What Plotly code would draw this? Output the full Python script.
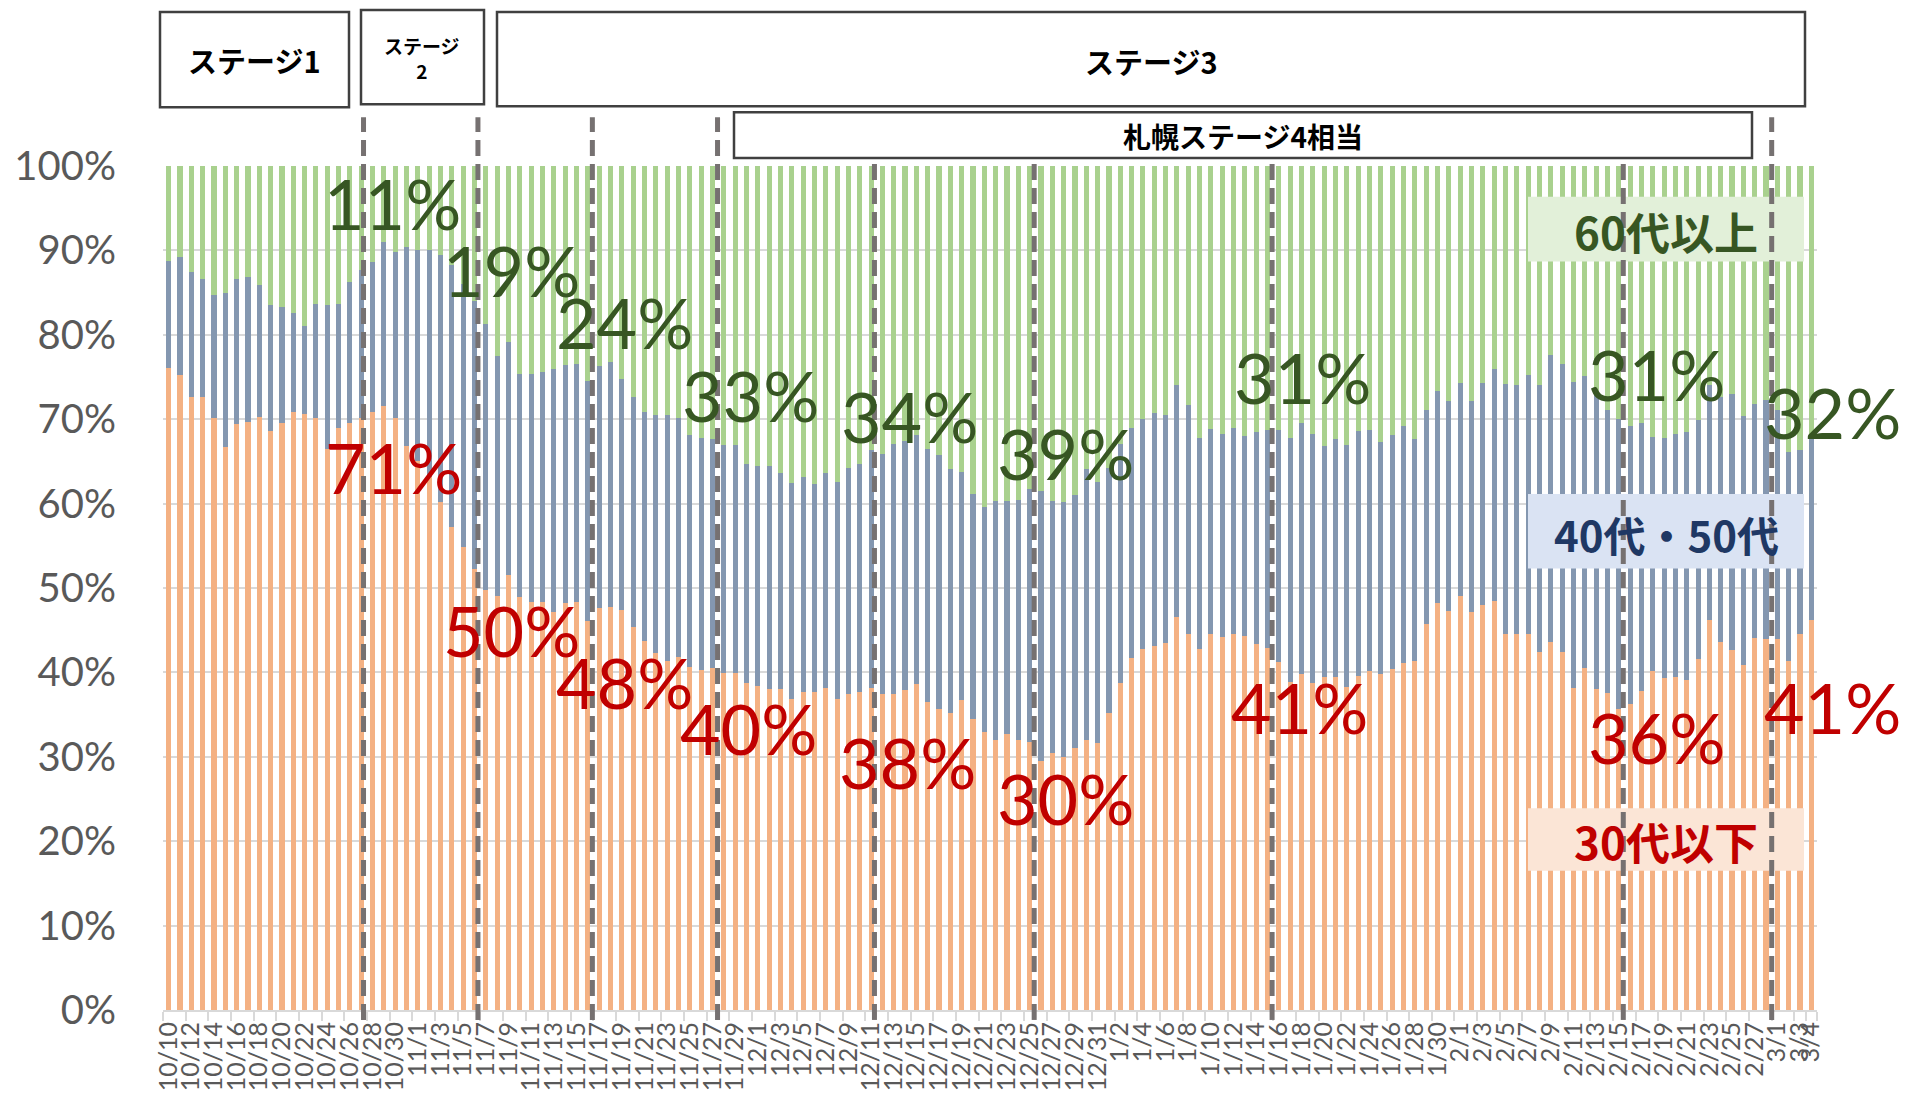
import pandas as pd
import plotly.graph_objects as go

# ---------------- data ----------------
dates = pd.date_range("2020-10-10", "2021-03-04")
categories = [f"{d.month}/{d.day}" for d in dates]

young = [76.1, 75.2, 72.6, 72.6, 70.1, 66.7, 69.4, 69.7, 70.3, 68.6,
         69.6, 70.9, 70.6, 70.1, 66.5, 69.0, 69.5, 70.1, 70.9, 71.6,
         70.2, 66.8, 65.0, 63.1, 60.2, 57.2, 54.9, 52.2, 49.8, 49.0,
         51.6, 48.9, 48.4, 48.3, 47.1, 48.2, 48.3, 46.1, 47.6, 47.8,
         47.4, 45.4, 43.7, 42.3, 41.4, 41.8, 40.6, 40.3, 40.5, 39.9,
         39.9, 38.7, 38.4, 38.0, 38.0, 36.9, 37.7, 37.7, 38.2, 36.8,
         37.5, 37.7, 38.2, 37.5, 37.4, 37.9, 38.6, 36.5, 35.7, 35.2,
         36.7, 34.5, 32.9, 32.0, 32.7, 32.0, 31.8, 29.5, 30.4, 30.0,
         31.1, 32.0, 31.6, 35.2, 38.7, 41.7, 42.8, 43.1, 43.5, 46.6,
         44.5, 42.8, 44.5, 44.2, 44.5, 44.3, 43.4, 42.9, 41.2, 38.9,
         39.8, 38.7, 39.5, 39.4, 38.3, 39.6, 40.2, 39.8, 40.4, 41.1,
         41.3, 45.7, 48.2, 47.3, 49.0, 47.1, 48.0, 48.5, 44.5, 44.6,
         44.5, 42.4, 43.6, 42.4, 38.2, 40.5, 38.0, 37.6, 35.7, 36.2,
         37.8, 40.2, 39.3, 39.5, 39.1, 41.6, 46.2, 43.6, 42.6, 40.9,
         44.1, 43.9, 44.0, 41.3, 44.6, 46.2]

middle = [12.6, 14.0, 14.8, 14.0, 14.6, 18.3, 17.2, 17.1, 15.6, 14.9,
          13.7, 11.7, 10.5, 13.5, 17.0, 14.6, 16.8, 17.6, 17.7, 19.4,
          19.6, 23.6, 25.0, 27.0, 29.3, 31.1, 31.1, 31.8, 31.5, 28.5,
          27.5, 26.5, 27.0, 27.3, 28.9, 28.2, 28.3, 28.4, 28.7, 29.0,
          27.4, 27.2, 27.2, 28.2, 29.1, 28.3, 27.5, 27.5, 27.1, 27.1,
          27.1, 26.0, 26.1, 26.5, 25.6, 25.5, 25.5, 24.6, 25.4, 25.8,
          26.7, 27.0, 28.2, 28.4, 29.7, 29.5, 29.5, 30.0, 30.0, 28.9,
          27.0, 26.6, 26.7, 28.3, 27.6, 28.4, 29.9, 32.0, 29.9, 30.2,
          29.9, 32.1, 31.0, 29.0, 28.4, 27.2, 27.2, 27.6, 27.0, 27.4,
          27.2, 25.0, 24.3, 24.1, 24.4, 23.7, 25.1, 25.8, 27.5, 28.9,
          29.8, 29.5, 27.3, 28.2, 28.6, 29.0, 28.5, 27.5, 27.7, 28.1,
          26.4, 25.4, 25.2, 24.9, 25.3, 25.0, 26.3, 27.5, 29.7, 29.5,
          30.7, 31.6, 34.0, 34.2, 36.2, 34.6, 35.0, 33.5, 34.3, 33.0,
          31.8, 27.7, 28.5, 28.8, 29.4, 28.3, 27.9, 29.0, 30.4, 29.5,
          27.7, 28.4, 27.1, 24.8, 21.7, 21.4]

senior = [11.3, 10.8, 12.6, 13.4, 15.3, 15.0, 13.4, 13.2, 14.1, 16.5,
          16.7, 17.4, 18.9, 16.4, 16.5, 16.4, 13.7, 12.3, 11.4, 9.0,
          10.2, 9.6, 10.0, 9.9, 10.5, 11.7, 14.0, 16.0, 18.7, 22.5,
          20.9, 24.6, 24.6, 24.4, 24.0, 23.6, 23.4, 25.5, 23.7, 23.2,
          25.2, 27.4, 29.1, 29.5, 29.5, 29.9, 31.9, 32.2, 32.4, 33.0,
          33.0, 35.3, 35.5, 35.5, 36.4, 37.6, 36.8, 37.7, 36.4, 37.4,
          35.8, 35.3, 33.6, 34.1, 32.9, 32.6, 31.9, 33.5, 34.3, 35.9,
          36.3, 38.9, 40.4, 39.7, 39.7, 39.6, 38.3, 38.5, 39.7, 39.8,
          39.0, 35.9, 37.4, 35.8, 32.9, 31.1, 30.0, 29.3, 29.5, 26.0,
          28.3, 32.2, 31.2, 31.7, 31.1, 32.0, 31.5, 31.3, 31.3, 32.2,
          30.4, 31.8, 33.2, 32.4, 33.1, 31.4, 31.3, 32.7, 31.9, 30.8,
          32.3, 28.9, 26.6, 27.8, 25.7, 27.9, 25.7, 24.0, 25.8, 25.9,
          24.8, 26.0, 22.4, 23.4, 25.6, 24.9, 27.0, 28.9, 30.0, 30.8,
          30.4, 32.1, 32.2, 31.7, 31.5, 30.1, 25.9, 27.4, 27.0, 29.6,
          28.2, 27.7, 28.9, 33.9, 33.7, 32.4]

series_names = ["30代以下", "40代・50代", "60代以上"]
tick_labels = categories[0::2] + [categories[-1]]

# period labels (text, series) placed at the stage boundaries
senior_labels = ["11%", "19%", "24%", "33%", "34%", "39%", "31%", "31%", "32%"]
young_labels = ["71%", "50%", "48%", "40%", "38%", "30%", "41%", "36%", "41%"]

# ---------------- styling / layout ----------------
W, H = 1906, 1103
L, R, T, B = 163, 1817, 166, 1015

def px(x):
    return (x - L) / (R - L)

def py(y):
    return (B - y) / (B - T)

ORANGE, BLUE, GREEN = "#F4B183", "#8497B0", "#A9D18E"
DKGREEN, DKRED, NAVY = "#375623", "#C00000", "#1F3864"
JP = "Noto Sans CJK JP"

fig = go.Figure()
for name, vals, col in zip(series_names, [young, middle, senior], [ORANGE, BLUE, GREEN]):
    fig.add_trace(go.Bar(x=categories, y=vals, name=name,
                         marker=dict(color=col, line=dict(width=0))))

fig.update_layout(
    width=W, height=H, barmode="stack", bargap=0.55, showlegend=False,
    paper_bgcolor="white", plot_bgcolor="white",
    margin=dict(l=L, r=W - R, t=T, b=H - B, pad=0),
    font=dict(family="Lato", color="#595959"),
)
fig.update_yaxes(range=[0, 100], tickmode="linear", tick0=0, dtick=10, ticksuffix="%",
                 showgrid=True, gridcolor="#D9D9D9", gridwidth=2, zeroline=False,
                 showline=False, ticks="", ticklabelstandoff=46,
                 tickfont=dict(family="Lato", size=40, color="#595959"))
fig.update_xaxes(type="category", categoryorder="array", categoryarray=categories,
                 tickmode="array", tickvals=tick_labels, ticktext=tick_labels,
                 tickangle=-90, tickson="boundaries", ticks="outside", ticklen=9,
                 tickwidth=2, tickcolor="#D9D9D9", showline=True, linecolor="#D9D9D9",
                 linewidth=2, showgrid=False,
                 tickfont=dict(family="Lato", size=25, color="#595959"))

shapes = []
annotations = []

# stage boxes
stage_boxes = [(160, 11, 349, 107), (361, 9, 484, 104), (497, 11, 1805, 106), (734, 112, 1752, 158)]
for x0, y0, x1, y1 in stage_boxes:
    shapes.append(dict(type="rect", xref="paper", yref="paper", x0=px(x0), x1=px(x1),
                       y0=py(y1), y1=py(y0), fillcolor="white",
                       line=dict(color="#404040", width=2.5), layer="above"))
stage_texts = [("ステージ1", 254, 59, 29), ("ステージ<br>2", 422, 57, 19),
               ("ステージ3", 1151, 60, 29), ("札幌ステージ4相当", 1243, 136, 28)]
for txt, x, y, s in stage_texts:
    annotations.append(dict(text=txt, xref="paper", yref="paper", x=px(x), y=py(y),
                            xanchor="center", yanchor="middle", showarrow=False,
                            font=dict(family=JP, size=s, color="black", weight="bold")))

# legend boxes (shapes so that dashed lines are drawn over them)
legend_boxes = [("60代以上", 197, 262, "#E2F0D9", DKGREEN, 44),
                ("40代・50代", 496, 571, "#DAE3F3", NAVY, 42),
                ("30代以下", 812, 875, "#FBE5D6", DKRED, 44)]
for txt, y0, y1, bg, fc, fs in legend_boxes:
    shapes.append(dict(type="rect", xref="paper", yref="paper", x0=px(1528), x1=px(1804),
                       y0=py(y1), y1=py(y0), fillcolor=bg, line=dict(width=0), layer="above"))

# dashed stage-boundary lines (category positions)
line_pos = [17.2, 27.3, 37.4, 48.45, 62.3, 76.4, 97.4, 128.4, 141.5]
line_top = [117, 117, 117, 117, 158, 158, 158, 158, 117]
for xp, yt in zip(line_pos, line_top):
    shapes.append(dict(type="line", xref="x", yref="paper", x0=xp, x1=xp,
                       y0=py(1025), y1=py(yt), layer="above",
                       line=dict(color="#767171", width=5, dash="16px,8px")))

for txt, y0, y1, bg, fc, fs in legend_boxes:
    annotations.append(dict(text=txt, xref="paper", yref="paper", x=px(1666),
                            y=py((y0 + y1) / 2 + 2), xanchor="center", yanchor="middle",
                            showarrow=False,
                            font=dict(family=JP, size=fs, color=fc, weight="bold")))

# percentage labels
senior_pos = [(392, 207), (511, 275), (624, 327), (750, 400), (909, 421),
              (1065, 459), (1302, 382), (1656, 379), (1832, 417)]
young_pos = [(393, 473), (511, 637), (624, 689), (748, 735), (907, 770),
             (1065, 806), (1299, 714), (1656, 744), (1832, 714)]
for labels, pos, col in [(senior_labels, senior_pos, DKGREEN), (young_labels, young_pos, DKRED)]:
    for txt, (x, y) in zip(labels, pos):
        annotations.append(dict(text=txt, xref="paper", yref="paper", x=px(x), y=py(y - 4),
                                xanchor="center", yanchor="middle", showarrow=False,
                                font=dict(family="Lato", size=70, color=col)))

fig.update_layout(shapes=shapes, annotations=annotations)

fig.write_html("out.html", config={"displayModeBar": False},
               post_script="document.body.style.margin='0px';")
